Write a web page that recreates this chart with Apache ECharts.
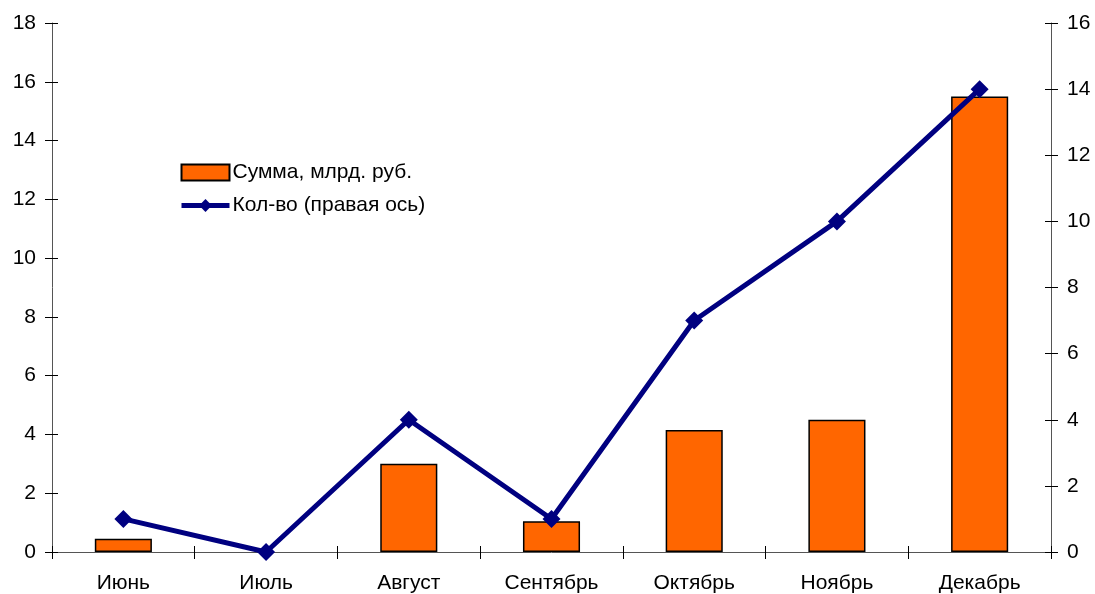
<!DOCTYPE html>
<html>
<head>
<meta charset="utf-8">
<script src="https://cdn.jsdelivr.net/npm/echarts@6/dist/echarts.min.js"></script>
<style>
html,body{margin:0;padding:0;background:#fff;}
#chart{width:1095px;height:594px;}
</style>
</head>
<body>
<div id="chart"></div>
<script>
// Months and values
const months = ['Июнь', 'Июль', 'Август', 'Сентябрь', 'Октябрь', 'Ноябрь', 'Декабрь'];
const amountBn = [0.45, 0, 3.0, 1.05, 4.15, 4.5, 15.5];   // Сумма, млрд. руб.
const dealCount = [1, 0, 4, 1, 7, 10, 14];                 // Кол-во (правая ось)
const seriesNames = ['Сумма, млрд. руб.', 'Кол-во (правая ось)'];

const font = 'Liberation Sans, Arial, sans-serif';
const axisColor = '#000';
const labelSize = 21;

const chart = echarts.init(document.getElementById('chart'), null, {renderer: 'canvas'});

// A second copy of an axis that only draws inward ticks, so the ticks cross the axis line
function innerTicks(base) {
  return Object.assign({}, base, {
    axisLabel: {show: false},
    axisLine: {show: false},
    axisTick: {show: true, inside: true, length: 6, lineStyle: {color: axisColor, width: 1}},
    splitLine: {show: false}
  });
}

const yLeft = {
  type: 'value', position: 'left', min: 0, max: 18, interval: 2,
  axisLine: {show: true, lineStyle: {color: '#555', width: 1}},
  axisTick: {show: true, inside: false, length: 7, lineStyle: {color: axisColor, width: 1}},
  axisLabel: {color: '#000', fontSize: labelSize, fontFamily: font, margin: 16},
  splitLine: {show: false}
};
const yRight = {
  type: 'value', position: 'right', min: 0, max: 16, interval: 2,
  axisLine: {show: true, lineStyle: {color: '#555', width: 1}},
  axisTick: {show: true, inside: false, length: 7, lineStyle: {color: axisColor, width: 1}},
  axisLabel: {color: '#000', fontSize: labelSize, fontFamily: font, margin: 16},
  splitLine: {show: false}
};
const xMain = {
  type: 'category', data: months, position: 'bottom',
  axisLine: {show: true, lineStyle: {color: '#555', width: 1}},
  axisTick: {show: true, inside: false, length: 7, lineStyle: {color: axisColor}},
  axisLabel: {color: '#000', fontSize: labelSize, fontFamily: font, margin: 21},
  splitLine: {show: false}
};

// zero-height bars get no outline
const barData = amountBn.map(v => v === 0 ? {value: v, itemStyle: {borderWidth: 0}} : v);

chart.setOption({
  animation: false,
  backgroundColor: '#fff',
  textStyle: {fontFamily: font},
  grid: {left: 52, right: 44, top: 23, bottom: 42, containLabel: false},
  legend: {
    orient: 'vertical',
    left: 174, top: 157,
    itemWidth: 48, itemHeight: 16, itemGap: 12,
    textStyle: {color: '#000', fontSize: labelSize, fontFamily: font, padding: [0, 0, 0, -2]},
    data: [
      {name: seriesNames[0], icon: 'rect'},
      {name: seriesNames[1], lineStyle: {width: 5}}
    ]
  },
  xAxis: [xMain, innerTicks(xMain)],
  yAxis: [yLeft, yRight, innerTicks(yLeft), innerTicks(yRight)],
  series: [
    {
      name: seriesNames[0], type: 'bar', data: barData,
      xAxisIndex: 0, yAxisIndex: 0,
      barWidth: '40%',
      itemStyle: {color: '#FF6600', borderColor: '#000', borderWidth: 1.5}
    },
    {
      name: seriesNames[1], type: 'line', data: dealCount,
      xAxisIndex: 0, yAxisIndex: 1,
      symbol: 'diamond', symbolSize: 18,
      lineStyle: {color: '#000080', width: 5},
      itemStyle: {color: '#000080'}
    }
  ]
});
</script>
</body>
</html>
